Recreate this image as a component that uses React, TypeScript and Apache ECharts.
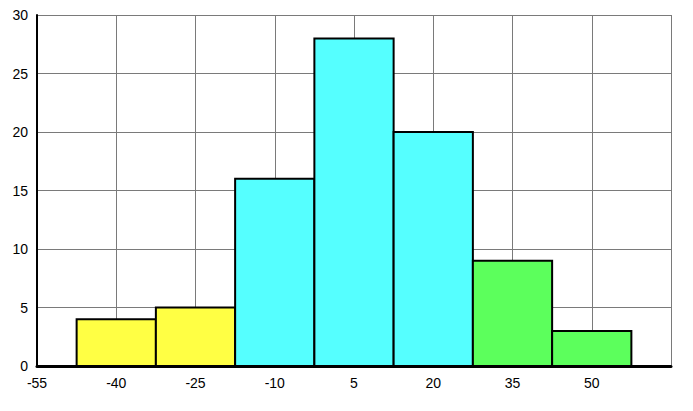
import React, { useEffect, useRef } from "react";
import * as echarts from "echarts";

const binCenters = [-40, -25, -10, 5, 20, 35, 50];
const counts = [4, 5, 16, 28, 20, 9, 3];
const binColors = ["#ffff44", "#ffff44", "#55ffff", "#55ffff", "#55ffff", "#5cff5c", "#5cff5c"];
const binWidth = 15;

export default function App() {
  const ref = useRef<HTMLDivElement>(null);
  useEffect(() => {
    document.body.style.margin = "0";
    const chart = echarts.init(ref.current!, null, { renderer: "svg" });
    const data = binCenters.map((c, i) => [c, counts[i], i]);
    chart.setOption({
      animation: false,
      backgroundColor: "#ffffff",
      grid: { left: 37, right: 22, top: 15, bottom: 45, containLabel: false },
      xAxis: {
        type: "value",
        min: -55,
        max: 65,
        interval: 15,
        axisLine: { show: true, onZero: false, lineStyle: { color: "#000", width: 3 } },
        axisTick: { show: false },
        splitLine: { show: true, lineStyle: { color: "#7a7a7a", width: 1 } },
        axisLabel: {
          color: "#000",
          fontSize: 14,
          fontFamily: "Liberation Sans, Arial, sans-serif",
          margin: 10,
          showMaxLabel: false,
          showMinLabel: true,
        },
      },
      yAxis: {
        type: "value",
        min: 0,
        max: 30,
        interval: 5,
        axisLine: { show: true, onZero: false, lineStyle: { color: "#000", width: 2 } },
        axisTick: { show: false },
        splitLine: { show: true, lineStyle: { color: "#7a7a7a", width: 1 } },
        axisLabel: {
          color: "#000",
          fontSize: 14,
          fontFamily: "Liberation Sans, Arial, sans-serif",
          margin: 9,
          padding: [0, 0, 5, 0],
        },
      },
      series: [
        {
          type: "custom",
          data,
          renderItem: (params: any, api: any) => {
            const c = api.value(0);
            const v = api.value(1);
            const idx = api.value(2);
            const p0 = api.coord([c - binWidth / 2, v]);
            const p1 = api.coord([c + binWidth / 2, 0]);
            return {
              type: "rect",
              shape: { x: p0[0], y: p0[1], width: p1[0] - p0[0], height: p1[1] - p0[1] },
              style: { fill: binColors[idx], stroke: "#000", lineWidth: 2 },
            };
          },
        },
      ],
    });
    return () => chart.dispose();
  }, []);
  return <div ref={ref} style={{ width: 693, height: 411 }} />;
}
